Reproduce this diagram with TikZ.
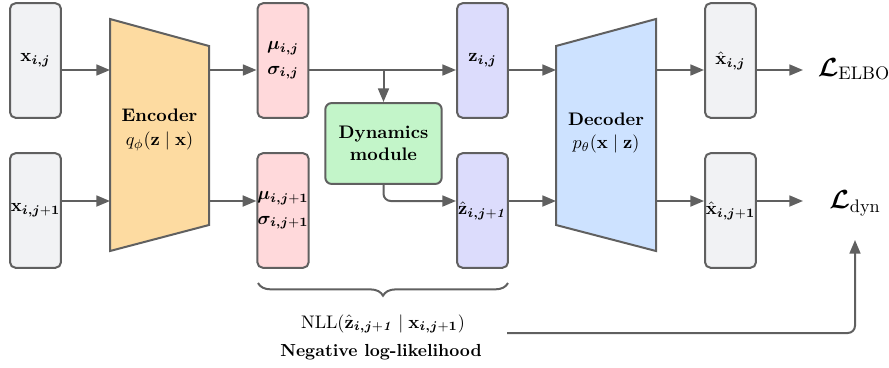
\documentclass[tikz,border=0pt]{standalone}
\usepackage{amsmath,bm}
\usetikzlibrary{arrows.meta,decorations.pathreplacing}
\definecolor{lineC}{HTML}{606060}
\definecolor{grayF}{HTML}{F1F2F4}
\definecolor{encF}{HTML}{FDDBA1}
\definecolor{pinkF}{HTML}{FFD9DB}
\definecolor{greenF}{HTML}{C3F5C9}
\definecolor{lavF}{HTML}{DCDCFC}
\definecolor{decF}{HTML}{CDE2FF}
\newcommand{\subnext}{\bm{i,j}+\mathbf{1}}
\newcommand{\subit}{\bm{i,j}{+}\bm{\mathit{1}}}
\tikzset{
  boxshape/.style={draw=lineC, line width=1.1pt, rounded corners=3pt, minimum width=28pt, minimum height=63pt, inner sep=0pt, align=center, font=\fontsize{10}{13.5}\selectfont},
  graybox/.style={boxshape, fill=grayF},
  pinkbox/.style={boxshape, fill=pinkF},
  lavbox/.style={boxshape, fill=lavF},
  trap/.style={draw=lineC, line width=1.1pt, line join=miter},
  conn/.style={draw=lineC, line width=1.1pt, -{Triangle[length=7.5pt,width=6pt]}},
  plainline/.style={draw=lineC, line width=1.1pt},
  lbl/.style={align=center, inner sep=1pt},
}
\begin{document}
\begin{tikzpicture}[x=0.55pt,y=-0.55pt]
\useasboundingbox (0,0) rectangle (889,367);
% row levels
\coordinate (rowA) at (0,70);
\coordinate (rowB) at (0,201);
% inputs
\node[graybox] (in1) at (35.5,60.5) {$\mathbf{x}_{\bm{i,j}}$};
\node[graybox] (in2) at (35.5,210.5) {$\mathbf{x}_{\subnext}$};
% encoder trapezoid
\coordinate (e1) at (110,19);
\coordinate (e2) at (209,46);
\coordinate (e3) at (209,225);
\coordinate (e4) at (110,251);
\filldraw[trap, fill=encF] (e1) -- (e2) -- (e3) -- (e4) -- cycle;
\node[lbl] (enc) at (159.5,130) {\textbf{Encoder}\\[1pt] $q_\phi(\mathbf{z}\mid\mathbf{x})$};
% mu sigma
\node[pinkbox] (mu1) at (283,60.5) {$\bm{\mu}_{\bm{i,j}}$\\ $\bm{\sigma}_{\bm{i,j}}$};
\node[pinkbox] (mu2) at (283,210.5) {$\bm{\mu}_{\subnext}$\\ $\bm{\sigma}_{\subnext}$};
% dynamics
\node[draw=lineC, line width=1.1pt, rounded corners=3.5pt, fill=greenF, minimum width=64pt, minimum height=44.5pt, align=center, inner sep=0pt] (dyn) at (383.5,143.5) {\textbf{Dynamics}\\ \textbf{module}};
% z boxes
\node[lavbox] (z1) at (482.5,60.5) {$\mathbf{z}_{\bm{i,j}}$};
\node[lavbox] (z2) at (482.5,210.5) {$\hat{\mathbf{z}}_{\subit}$};
% decoder trapezoid
\coordinate (d1) at (556,46);
\coordinate (d2) at (656,19);
\coordinate (d3) at (656,251);
\coordinate (d4) at (556,225);
\filldraw[trap, fill=decF] (d1) -- (d2) -- (d3) -- (d4) -- cycle;
\node[lbl] (dec) at (606,133) {\textbf{Decoder}\\[1pt] $p_\theta(\mathbf{x}\mid\mathbf{z})$};
% outputs
\node[graybox] (out1) at (730.5,60.5) {$\hat{\mathbf{x}}_{\bm{i,j}}$};
\node[graybox] (out2) at (730.5,210.5) {$\hat{\mathbf{x}}_{\subnext}$};
% losses
\node[lbl, font=\Large] (lelbo) at (854,69) {$\bm{\mathcal{L}}_{\mathrm{ELBO}}$};
\node[lbl, font=\Large] (ldyn) at (855,203) {$\bm{\mathcal{L}}_{\mathrm{dyn}}$};
% arrows row A
\draw[conn] (in1.east |- rowA) -- (e1 |- rowA);
\draw[conn] (e2 |- rowA) -- (mu1.west |- rowA);
\draw[conn] (mu1.east |- rowA) -- (z1.west |- rowA);
\draw[conn] (z1.east |- rowA) -- (d1 |- rowA);
\draw[conn] (d2 |- rowA) -- (out1.west |- rowA);
\coordinate (t1) at (803,70);
\draw[conn] (out1.east |- rowA) -- (t1);
% arrows row B
\draw[conn] (in2.east |- rowB) -- (e4 |- rowB);
\draw[conn] (e3 |- rowB) -- (mu2.west |- rowB);
\draw[conn] (z2.east |- rowB) -- (d4 |- rowB);
\draw[conn] (d3 |- rowB) -- (out2.west |- rowB);
\coordinate (t2) at (803,201);
\draw[conn] (out2.east |- rowB) -- (t2);
% dynamics branch
\draw[conn] (dyn.north |- rowA) -- (dyn.north);
\draw[conn, rounded corners=4pt] (dyn.south) -- (dyn.south |- rowB) -- (z2.west |- rowB);
% brace
\coordinate (bl) at (258,283);
\coordinate (br) at (508,283);
\draw[plainline, decoration={brace, mirror, amplitude=7pt}, decorate] (bl) -- (br);
\node[lbl] (nll) at (383,324) {$\mathrm{NLL}(\hat{\mathbf{z}}_{\subit}\mid\mathbf{x}_{\subnext})$};
\node[lbl, font=\fontsize{9.6}{11}\selectfont\bfseries] (neg) at (381,352) {Negative log-likelihood};
% loss line
\coordinate (ls) at (507,333);
\coordinate (lc) at (855,333);
\coordinate (lt) at (855,240);
\draw[conn, rounded corners=4pt] (ls) -- (lc) -- (lt);
\end{tikzpicture}
\end{document}
